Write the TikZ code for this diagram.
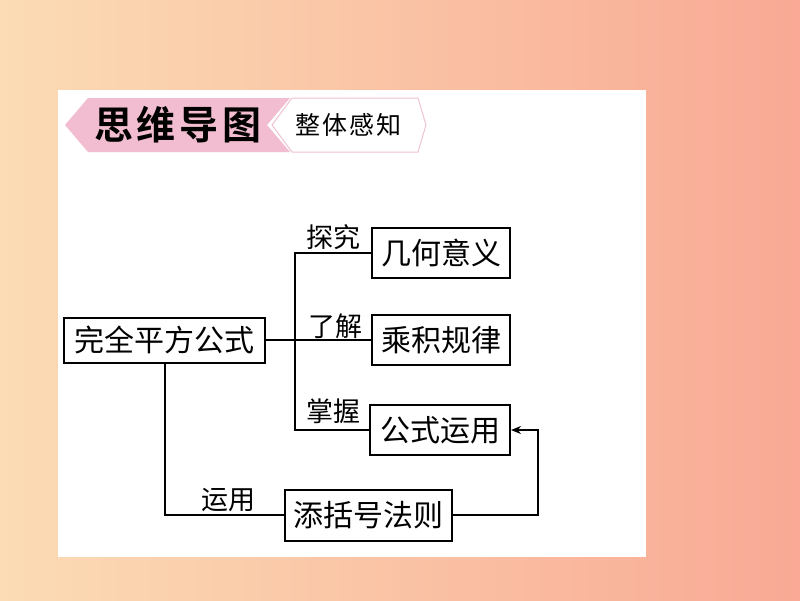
\documentclass[tikz,border=0pt]{standalone}
\usepackage{fontspec}
\newfontfamily\cjk{Noto Sans CJK SC}[BoldFont={Noto Sans CJK SC Bold}]
\usetikzlibrary{arrows.meta}
\definecolor{bgL}{HTML}{FBDCB4}
\definecolor{bgR}{HTML}{F9A995}
\definecolor{pinkfill}{HTML}{F2BDD0}
\definecolor{pinkline}{HTML}{EFC3D2}
\tikzset{
  box/.style={draw, line width=2pt, inner sep=0pt, font=\cjk\fontsize{30}{30}\selectfont, anchor=center},
  lab/.style={font=\cjk\fontsize{27}{27}\selectfont, inner sep=0pt},
  conn/.style={line width=2pt},
}
\begin{document}
\begin{tikzpicture}[x=1pt,y=-1pt]
\useasboundingbox (0,0) rectangle (800,600);
\shade[left color=bgL, right color=bgR] (0,0) rectangle (800,600);
\fill[white] (58,90) rectangle (646,557);
% header
\fill[pinkfill] (88,98) -- (290,98) -- (267,125) -- (290,152) -- (88,152) -- (65,125) -- cycle;
\draw[pinkline, line width=1pt] (292,98) -- (418,98) -- (426,125) -- (418,152) -- (292,152) -- (272,125) -- cycle;
\node[font=\cjk\bfseries\fontsize{39}{39}\selectfont, inner sep=0pt] (t1) at (178,125) {思\hspace{4pt}维\hspace{4pt}导\hspace{4pt}图};
\node[font=\cjk\fontsize{25}{25}\selectfont, inner sep=0pt] (t2) at (348,125) {整\hspace{2pt}体\hspace{2pt}感\hspace{2pt}知};
% nodes
\node[box, minimum width=201pt, minimum height=45pt] (main) at (164,340) {完全平方公式};
\node[box, minimum width=138pt, minimum height=50pt] (a) at (441,253) {几何意义};
\node[box, minimum width=138pt, minimum height=50pt] (b) at (441,340) {乘积规律};
\node[box, minimum width=140pt, minimum height=50pt] (c) at (440,430) {公式运用};
\node[box, minimum width=167pt, minimum height=51pt] (d) at (368.5,515) {添括号法则};
% labels
\node[lab] (la) at (333,237) {探究};
\node[lab] (lb) at (335,326) {了解};
\node[lab] (lc) at (333,411) {掌握};
\node[lab] (ld) at (228,500) {运用};
% connectors
\coordinate (v1) at (295,253);
\coordinate (v2) at (295,430);
\draw[conn] (main.east) -- (b.west);
\draw[conn] (a.west) -- (v1) -- (v2) -- (c.west);
\draw[conn] (main.south -| 165,0) |- (d.west);
\coordinate (r1) at (538,515);
\coordinate (r2) at (538,430);
\draw[conn, -{Stealth[length=10pt,width=8pt]}] (d.east) -- (r1) -- (r2) -- (c.east);
\end{tikzpicture}
\end{document}
